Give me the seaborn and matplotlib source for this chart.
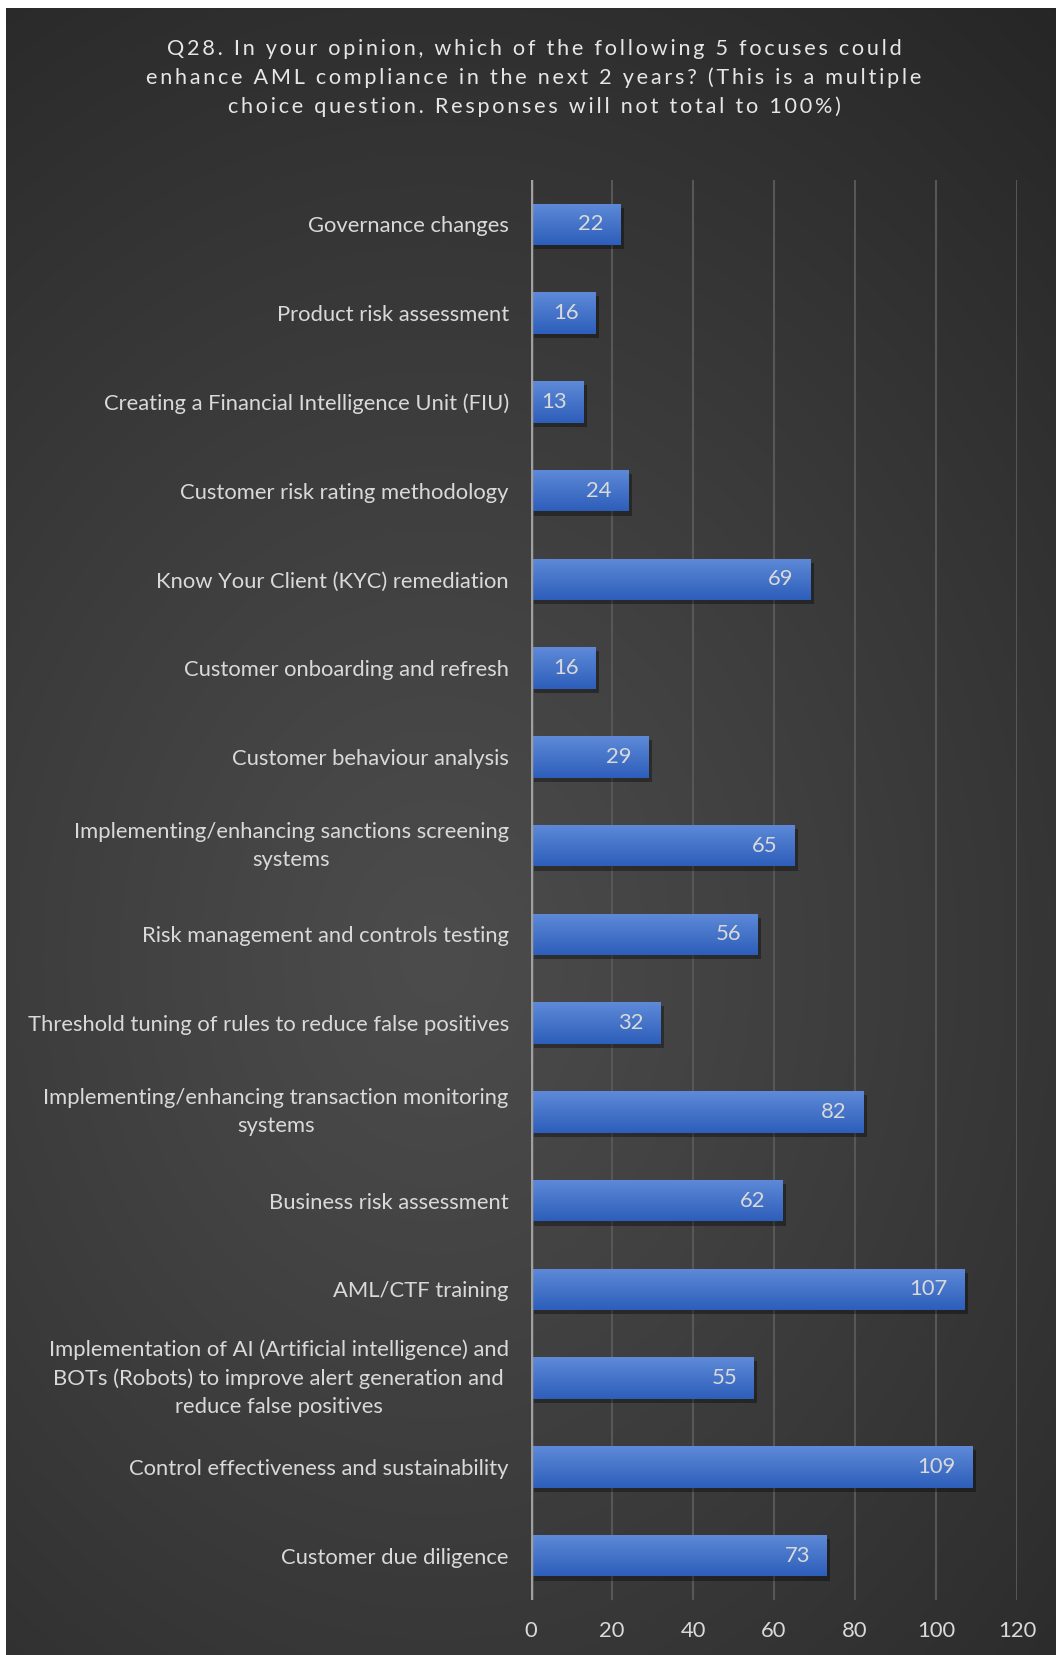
import numpy as np
import pandas as pd
import matplotlib
matplotlib.use("Agg")
import matplotlib.pyplot as plt
import matplotlib.patheffects as pe
import seaborn as sns

# Survey responses, listed top to bottom as they appear on the chart
categories = [
    "Governance changes",
    "Product risk assessment",
    "Creating a Financial Intelligence Unit (FIU)",
    "Customer risk rating methodology",
    "Know Your Client (KYC) remediation",
    "Customer onboarding and refresh",
    "Customer behaviour analysis",
    "Implementing/enhancing sanctions screening\nsystems",
    "Risk management and controls testing",
    "Threshold tuning of rules to reduce false positives",
    "Implementing/enhancing transaction monitoring\nsystems",
    "Business risk assessment",
    "AML/CTF training",
    "Implementation of AI (Artificial intelligence) and\nBOTs (Robots) to improve alert generation and\nreduce false positives",
    "Control effectiveness and sustainability",
    "Customer due diligence",
]
responses = [22, 16, 13, 24, 69, 16, 29, 65, 56, 32, 82, 62, 107, 55, 109, 73]
x_ticks = [0, 20, 40, 60, 80, 100, 120]

title = ("Q28. In your opinion, which of the following 5 focuses could\n"
         "enhance AML compliance in the next 2 years? (This is a multiple\n"
         "choice question. Responses will not total to 100%)")

df = pd.DataFrame({"focus": categories, "responses": responses})

sns.set_theme(style="dark")
plt.rcParams["font.family"] = ["Lato", "DejaVu Sans"]

W, H, DPI = 1057, 1655, 100
fig = plt.figure(figsize=(W / DPI, H / DPI), dpi=DPI)
fig.patch.set_facecolor("white")

# Dark radial-gradient backdrop inside a thin white frame
bg_left, bg_right, bg_top = 6, 1, 8
bg = fig.add_axes([bg_left / W, 0, (W - bg_left - bg_right) / W, (H - bg_top) / H], zorder=-10)
gy, gx = np.mgrid[0:H - bg_top, 0:W - bg_left - bg_right]
cx, cy = 430, 950
r = np.sqrt(((gx - cx) / 1.0) ** 2 + ((gy - cy) / 1.25) ** 2)
r = np.clip(r / 1000.0, 0, 1)
inner = np.array([0x4c, 0x4c, 0x4c]) / 255
outer = np.array([0x25, 0x25, 0x25]) / 255
img = inner[None, None, :] * (1 - r[..., None] ** 1.1) + outer[None, None, :] * (r[..., None] ** 1.1)
bg.imshow(img, aspect="auto", interpolation="bilinear")
bg.axis("off")

text_col = "#D9D9D9"
label_size = 15.8


def spaced(s, gap="\u2009"):
    # widen the tracking of each line by inserting thin spaces between letters
    return "\n".join(gap.join(line) for line in s.split("\n"))


fig.text(534 / W, 1 - 78 / H, spaced(title),
         ha="center", va="center", color="#E6E6E6", fontsize=15.6,
         linespacing=1.5, family=["Lato", "DejaVu Sans"])

ax_l, ax_r, ax_t, ax_b = 531, 1017, 180, 1600
ax = fig.add_axes([ax_l / W, 1 - ax_b / H, (ax_r - ax_l) / W, (ax_b - ax_t) / H])
ax.set_facecolor("none")

sns.barplot(data=df, y="focus", x="responses", orient="h", ax=ax,
            color="#4472C4", width=0.47, saturation=1, linewidth=0, zorder=3)

ax.set_xlim(0, 120)
ax.set_xticks(x_ticks)
ax.set_xlabel("")
ax.set_ylabel("")
for s in ax.spines.values():
    s.set_visible(False)
ax.grid(axis="x", color="#575757", lw=1.5, zorder=0)
ax.grid(axis="y", visible=False)
ax.set_axisbelow(True)
ax.axvline(0, color="#A0A0A0", lw=2.5, zorder=6)

ax.tick_params(axis="x", length=0, pad=15, labelsize=label_size, labelcolor=text_col)
ax.tick_params(axis="y", length=0, pad=16, labelsize=label_size, labelcolor=text_col)
for lab in ax.get_yticklabels():
    lab.set_multialignment("center")
    lab.set_linespacing(1.5)
    if "\n" in lab.get_text():
        lab.set_verticalalignment("center")

# Vertical blue gradient and soft drop shadow on each bar
ylim = ax.get_ylim()
grad = np.linspace(0, 1, 64)[:, None, None]
top_c = np.array([94, 138, 216]) / 255
bot_c = np.array([45, 94, 186]) / 255
gimg = top_c * (1 - grad) + bot_c * grad
for p, v in zip(ax.patches, responses):
    p.set_path_effects([pe.SimplePatchShadow(offset=(2.5, -3), shadow_rgbFace="black", alpha=0.35),
                        pe.Normal()])
    x0, y0, w, h = p.get_x(), p.get_y(), p.get_width(), p.get_height()
    im = ax.imshow(gimg, extent=(x0, x0 + w, y0 + h, y0), origin="upper",
                   aspect="auto", zorder=4, interpolation="bilinear")
    im.set_clip_path(p)
    ax.annotate(f"{v}", xy=(x0 + w, y0 + h / 2), xytext=(-12, 0),
                textcoords="offset points", ha="right", va="center",
                color=text_col, fontsize=label_size, zorder=7)
ax.set_ylim(ylim)
ax.set_xlim(0, 120)

fig.savefig("out.png", dpi=DPI, facecolor=fig.get_facecolor())
